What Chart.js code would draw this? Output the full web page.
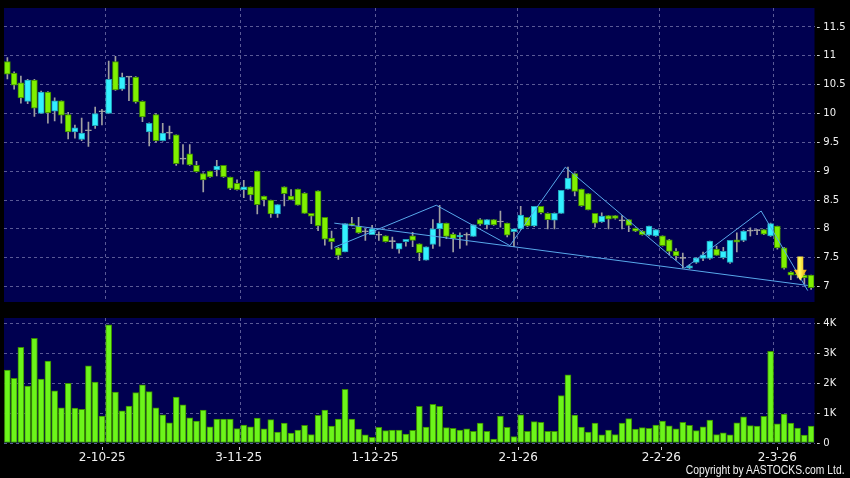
<!DOCTYPE html>
<html><head><meta charset="utf-8">
<script src="https://cdn.jsdelivr.net/npm/chart.js@4.4.1/dist/chart.umd.min.js"></script>
<style>
html,body{margin:0;padding:0;background:#000;width:850px;height:478px;overflow:hidden;}
#pw{position:absolute;left:0;top:0;width:850px;height:310px;}
#vw{position:absolute;left:0;top:310px;width:850px;height:168px;}
#copy{position:absolute;right:5px;top:463px;color:#f0f0f0;font:12px "Liberation Sans",sans-serif;white-space:nowrap;transform:scaleX(0.86);transform-origin:right top;}
</style></head><body>
<div id="pw"><canvas id="pc" width="850" height="310"></canvas></div>
<div id="vw"><canvas id="vc" width="850" height="168"></canvas></div>
<div id="copy">Copyright by AASTOCKS.com Ltd.</div>
<script>
// ---- data ----
const tickLabels = ['2-10-25','3-11-25','1-12-25','2-1-26','2-2-26','2-3-26'];
const tickIndex = [15,35,55,76,97,114];
const priceTicks = [7,7.5,8,8.5,9,9.5,10,10.5,11,11.5];
const volTicks = [0,1,2,3,4];

const openP = [10.90,10.70,10.53,10.21,10.58,10.00,10.37,10.04,10.22,9.98,
9.68,9.55,9.70,9.79,10.03,10.00,10.90,10.42,10.63,10.63,
10.21,9.68,9.98,9.53,9.66,9.63,9.21,9.30,9.10,8.96,
9.00,9.02,9.10,8.90,8.79,8.68,8.73,9.00,8.57,8.50,
8.26,8.73,8.57,8.69,8.62,8.27,8.66,8.20,7.84,7.67,
7.60,8.09,8.05,7.95,7.90,7.89,7.88,7.78,7.65,7.78,
7.88,7.74,7.46,7.73,8.00,8.10,7.91,7.86,7.89,7.87,
8.16,8.07,8.16,8.12,8.10,7.95,8.00,8.20,8.05,8.39,
8.27,8.15,8.27,8.69,8.96,8.69,8.61,8.27,8.12,8.23,
8.23,8.14,8.16,8.01,7.96,7.89,7.88,7.88,7.81,7.61,
7.49,7.32,7.42,7.49,7.49,7.65,7.50,7.42,7.81,7.80,
7.96,7.97,7.99,7.88,8.05,7.67,7.25,7.22,7.20,7.20];
const highP = [10.97,10.72,10.65,10.59,10.59,10.39,10.38,10.27,10.22,10.02,
9.80,9.92,9.85,10.11,10.07,10.91,10.99,10.70,10.63,10.64,
10.22,9.84,10.00,9.83,9.78,9.63,9.46,9.46,9.17,8.97,
9.00,9.19,9.10,8.90,8.85,8.84,8.73,9.00,8.57,8.50,
8.42,8.73,8.68,8.69,8.63,8.27,8.66,8.20,7.96,7.68,
8.09,8.20,8.20,8.00,8.06,7.95,7.88,7.86,7.75,7.82,
7.94,7.74,7.69,8.16,8.41,8.10,7.93,7.93,7.93,8.07,
8.18,8.16,8.16,8.31,8.10,8.00,8.39,8.20,8.39,8.39,
8.28,8.28,8.67,9.07,8.97,8.69,8.61,8.27,8.28,8.23,
8.23,8.23,8.16,8.02,7.97,8.05,7.99,7.88,7.82,7.66,
7.58,7.38,7.50,7.60,7.79,7.70,7.68,7.80,7.93,7.97,
8.02,7.99,7.99,8.10,8.05,7.68,7.26,7.25,7.22,7.20];
const lowP = [10.60,10.42,10.18,10.17,9.95,10.00,9.83,9.87,9.83,9.56,
9.57,9.53,9.43,9.74,9.80,10.00,10.40,10.40,10.22,10.18,
9.86,9.44,9.50,9.52,9.56,9.10,9.12,9.10,8.98,8.64,
8.89,8.92,8.89,8.68,8.67,8.54,8.50,8.26,8.40,8.20,
8.20,8.40,8.50,8.41,8.27,8.09,7.97,7.72,7.65,7.47,
7.60,8.05,7.92,7.80,7.90,7.80,7.77,7.66,7.58,7.70,
7.69,7.45,7.46,7.66,7.70,7.83,7.60,7.66,7.72,7.87,
8.06,8.00,8.06,8.03,7.86,7.69,7.99,8.04,8.04,8.26,
8.00,8.00,8.27,8.69,8.57,8.39,8.33,8.03,8.11,8.00,
8.17,8.00,7.95,7.95,7.89,7.88,7.87,7.70,7.55,7.46,
7.32,7.31,7.40,7.45,7.47,7.54,7.48,7.40,7.60,7.78,
7.88,7.90,7.90,7.87,7.65,7.30,7.12,7.15,7.05,6.95];
const closeP = [10.68,10.49,10.27,10.58,10.09,10.37,10.01,10.22,9.97,9.68,
9.75,9.66,9.70,10.00,10.03,10.59,10.41,10.63,10.63,10.20,
9.94,9.83,9.53,9.66,9.66,9.13,9.21,9.11,8.99,8.85,
8.90,9.09,8.90,8.70,8.68,8.73,8.59,8.42,8.50,8.26,
8.42,8.61,8.50,8.41,8.27,8.22,8.05,7.82,7.78,7.54,
8.09,8.06,7.93,7.95,8.00,7.89,7.78,7.78,7.75,7.82,
7.80,7.59,7.69,8.00,8.10,7.87,7.83,7.89,7.89,8.07,
8.08,8.16,8.07,8.12,7.89,8.00,8.24,8.05,8.39,8.28,
8.16,8.27,8.67,8.88,8.65,8.40,8.33,8.10,8.22,8.17,
8.18,8.14,8.06,7.96,7.90,8.05,7.99,7.71,7.61,7.53,
7.49,7.36,7.50,7.55,7.79,7.54,7.61,7.80,7.77,7.96,
7.96,7.97,7.91,8.09,7.67,7.32,7.20,7.20,7.15,6.98];
const volumeK = [2.43,2.16,3.19,1.90,3.49,2.13,2.73,1.74,1.17,1.99,
1.16,1.12,2.57,2.03,0.90,3.94,1.70,1.07,1.23,1.68,
1.94,1.71,1.17,0.94,0.67,1.53,1.27,0.84,0.73,1.10,
0.54,0.80,0.80,0.80,0.48,0.60,0.54,0.83,0.47,0.78,
0.36,0.66,0.33,0.43,0.59,0.28,0.92,1.10,0.56,0.80,
1.79,0.80,0.46,0.27,0.19,0.52,0.41,0.43,0.43,0.30,
0.42,1.22,0.53,1.29,1.22,0.51,0.49,0.43,0.47,0.39,
0.66,0.39,0.13,0.90,0.52,0.21,0.94,0.39,0.71,0.69,
0.39,0.39,1.58,2.27,0.93,0.53,0.36,0.66,0.27,0.43,
0.28,0.66,0.81,0.46,0.51,0.49,0.60,0.73,0.57,0.47,
0.69,0.59,0.41,0.54,0.76,0.28,0.34,0.27,0.67,0.87,
0.58,0.56,0.89,3.06,0.64,0.96,0.66,0.50,0.26,0.56];
const necklineX = [48.4, 118.5];
const necklineY = [8.10, 7.02];
const zigzagX = [48.4, 63.5, 74.4, 82.6, 100.3, 111.6, 118.5];
const zigzagY = [7.68, 8.41, 7.71, 9.07, 7.32, 8.31, 6.93];
const arrowSignal = {index: 117.4, from: 7.52, to: 7.10};

// ---- styles ----
const NAVY = '#000050';
const GRID = '#5a5a96';
const TXT = '#f0f0f0';
const COL = {
  up:   {fill:'#33f0ff', line:'#1f9fb8'},
  down: {fill:'#80f000', line:'#3d8a00'},
  flat: {fill:'#a8a8a8', line:'#a8a8a8'}
};
const N = openP.length;
const idx = openP.map((_, i) => i);
const kind = i => closeP[i] > openP[i] ? 'up' : (closeP[i] < openP[i] ? 'down' : 'flat');

const bgPlugin = {
  id: 'bg',
  beforeDraw(c) {
    const {ctx, chartArea: a} = c;
    ctx.save();
    ctx.fillStyle = NAVY;
    ctx.fillRect(a.left, a.top, a.right - a.left, a.bottom - a.top);
    ctx.restore();
  }
};
const arrowPlugin = {
  id: 'arrow',
  afterDatasetsDraw(c) {
    const {ctx} = c;
    const x = c.scales.x.getPixelForValue(arrowSignal.index);
    const y0 = c.scales.y.getPixelForValue(arrowSignal.from);
    const y1 = c.scales.y.getPixelForValue(arrowSignal.to);
    const hw = 6.5, sw = 3, hh = 11;
    const g = ctx.createLinearGradient(x - hw, 0, x + hw, 0);
    g.addColorStop(0, '#f0a000');
    g.addColorStop(0.45, '#ffff60');
    g.addColorStop(1, '#e89800');
    ctx.save();
    ctx.beginPath();
    ctx.moveTo(x - sw, y0);
    ctx.lineTo(x + sw, y0);
    ctx.lineTo(x + sw, y1 - hh);
    ctx.lineTo(x + hw, y1 - hh);
    ctx.lineTo(x, y1);
    ctx.lineTo(x - hw, y1 - hh);
    ctx.lineTo(x - sw, y1 - hh);
    ctx.closePath();
    ctx.fillStyle = g;
    ctx.fill();
    ctx.restore();
  }
};
const tickMarkPlugin = {
  id: 'tickmarks',
  afterDraw(c) {
    const {ctx, chartArea: a} = c;
    const s = c.scales.x2;
    ctx.save();
    ctx.strokeStyle = '#c8c8c8';
    ctx.lineWidth = 1;
    tickIndex.forEach(v => {
      const x = Math.round(s.getPixelForValue(v)) + 0.5;
      ctx.beginPath();
      ctx.moveTo(x, a.bottom + 4);
      ctx.lineTo(x, a.bottom + 7);
      ctx.stroke();
    });
    ctx.restore();
  }
};

const xBase = {
  type: 'linear', min: -0.5, max: N - 0.5, offset: false,
  afterBuildTicks: s => { s.ticks = tickIndex.map(v => ({value: v - 0.5})); },
  grid: {display: true, color: GRID, lineWidth: 1, drawTicks: false, offset: false},
  border: {display: false, dash: [3, 3]},
  ticks: {display: false},
  afterFit: s => { s.height = 0; }
};
const yFont = {family: 'DejaVu Sans', size: 10};

// ---- price chart ----
new Chart(document.getElementById('pc'), {
  type: 'bar',
  data: {
    datasets: [
      {type: 'bar', data: idx.map(i => ({x: i, y: [lowP[i], highP[i]]})),
       backgroundColor: '#a0a0a0', barThickness: 1, grouped: false, order: 3, borderWidth: 0},
      {type: 'bar', data: idx.map(i => ({x: i, y: [openP[i], closeP[i]]})),
       backgroundColor: c => COL[kind(c.dataIndex)].fill,
       borderColor: c => COL[kind(c.dataIndex)].line,
       borderWidth: 1, borderSkipped: false, barThickness: 6, minBarLength: 1,
       grouped: false, order: 2},
      {type: 'line', data: zigzagX.map((x, k) => ({x, y: zigzagY[k]})),
       borderColor: '#58a8ea', borderWidth: 1, pointRadius: 0, tension: 0, order: 1},
      {type: 'line', data: necklineX.map((x, k) => ({x, y: necklineY[k]})),
       borderColor: '#58a8ea', borderWidth: 1, pointRadius: 0, tension: 0, order: 1}
    ]
  },
  options: {
    responsive: false, animation: false, devicePixelRatio: 1,
    layout: {padding: {left: 4, top: 5, bottom: 5, right: 0}},
    plugins: {legend: {display: false}, tooltip: {enabled: false}},
    scales: {
      x: xBase,
      y: {
        type: 'linear', position: 'right', min: 6.733, max: 11.828,
        afterBuildTicks: s => { s.ticks = priceTicks.map(v => ({value: v})); },
        afterFit: s => { s.width = 35.5; },
        grid: {color: GRID, lineWidth: 1, drawTicks: false},
        border: {display: false, dash: [3, 3]},
        ticks: {color: TXT, font: yFont, padding: 2, callback: v => '- ' + v}
      }
    }
  },
  plugins: [bgPlugin, arrowPlugin]
});

// ---- volume chart ----
new Chart(document.getElementById('vc'), {
  type: 'bar',
  data: {
    datasets: [
      {type: 'bar', data: idx.map(i => ({x: i, y: volumeK[i]})),
       backgroundColor: '#6cf51a', borderColor: '#3a8c00', borderWidth: 1,
       borderSkipped: false, barThickness: 6, grouped: false}
    ]
  },
  options: {
    responsive: false, animation: false, devicePixelRatio: 1,
    layout: {padding: {left: 4, top: 8, bottom: 0, right: 0}},
    plugins: {legend: {display: false}, tooltip: {enabled: false}},
    scales: {
      x: xBase,
      x2: {
        type: 'linear', position: 'bottom', min: 0.587, max: 119.46, offset: false,
        afterBuildTicks: s => { s.ticks = tickIndex.map(v => ({value: v})); },
        afterFit: s => { s.height = 35; },
        grid: {display: false, drawTicks: false, offset: false},
        border: {display: false},
        ticks: {color: TXT, font: {family: 'DejaVu Sans', size: 12}, padding: 8,
                maxRotation: 0, autoSkip: false,
                callback: (v, k) => tickLabels[k]}
      },
      y: {
        type: 'linear', position: 'right', min: 0, max: 4.167,
        afterBuildTicks: s => { s.ticks = volTicks.map(v => ({value: v})); },
        afterFit: s => { s.width = 35.5; },
        grid: {color: GRID, lineWidth: 1, drawTicks: false},
        border: {display: false, dash: [3, 3]},
        ticks: {color: TXT, font: yFont, padding: 2,
                callback: v => v === 0 ? '- 0' : '- ' + v + 'K'}
      }
    }
  },
  plugins: [bgPlugin, tickMarkPlugin]
});
</script>
</body></html>
